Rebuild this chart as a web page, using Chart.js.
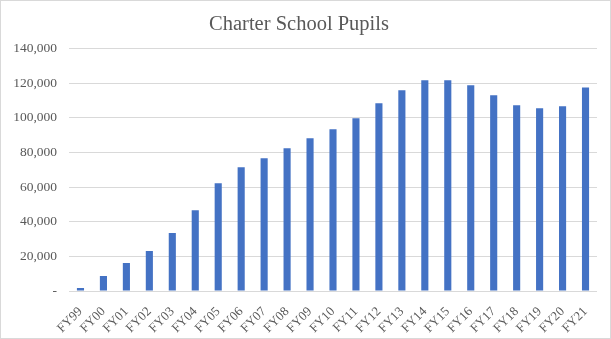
<!DOCTYPE html>
<html>
<head>
<meta charset="utf-8">
<script src="https://cdn.jsdelivr.net/npm/chart.js@4"></script>
<style>
    html, body { margin: 0; padding: 0; background: #fff; }
    #wrap {
        width: 611px;
        height: 339px;
        box-sizing: border-box;
        border: 1px solid #d9d9d9;
    }
</style>
</head>
<body>
<div id="wrap"><canvas id="pupilsChart" width="609" height="337"></canvas></div>
<script>
const years = ["FY99", "FY00", "FY01", "FY02", "FY03", "FY04", "FY05", "FY06", "FY07", "FY08", "FY09", "FY10",
    "FY11", "FY12", "FY13", "FY14", "FY15", "FY16", "FY17", "FY18", "FY19", "FY20", "FY21"];

const pupils = [1800, 8700, 16100, 23100, 33500, 46700, 62300, 71500, 76700, 82500, 88200, 93400,
    99800, 108400, 115900, 121700, 121700, 118800, 113000, 107300, 105500, 106700, 117600];

const yMax = 140000;
const yStep = 20000;

const TEXT_GRAY = "#595959";
const GRID_GRAY = "#d9d9d9";
const BAR_BLUE = "#4472c4";
const FONT = "'Liberation Serif', 'DejaVu Serif', serif";

new Chart("pupilsChart", {
    type: "bar",
    data: {
        labels: years,
        datasets: [{
            label: "Charter School Pupils",
            data: pupils,
            backgroundColor: BAR_BLUE,
            barPercentage: 0.31,
            categoryPercentage: 1.0
        }]
    },
    options: {
        responsive: false,
        animation: false,
        layout: {
            padding: {left: 0, right: 13, top: 0, bottom: 0}
        },
        plugins: {
            legend: {display: false},
            tooltip: {enabled: false},
            title: {
                display: true,
                text: "Charter School Pupils",
                color: TEXT_GRAY,
                font: {family: FONT, size: 20.5, weight: "normal"},
                padding: {top: 11, bottom: 12}
            }
        },
        scales: {
            x: {
                grid: {display: false},
                border: {display: false},
                ticks: {
                    color: TEXT_GRAY,
                    font: {family: FONT, size: 13},
                    minRotation: 45,
                    maxRotation: 45,
                    autoSkip: false,
                    padding: 5
                },
                afterFit: function (scale) {
                    scale.height = 47;
                }
            },
            y: {
                min: 0,
                max: yMax,
                grid: {color: GRID_GRAY, lineWidth: 1, drawTicks: false},
                border: {display: false},
                ticks: {
                    stepSize: yStep,
                    color: TEXT_GRAY,
                    font: {family: FONT, size: 13.5},
                    padding: 12,
                    callback: function (value) {
                        return value === 0 ? "-" : value.toLocaleString("en-US");
                    }
                },
                afterFit: function (scale) {
                    scale.width = 68;
                }
            }
        }
    }
});
</script>
</body>
</html>
